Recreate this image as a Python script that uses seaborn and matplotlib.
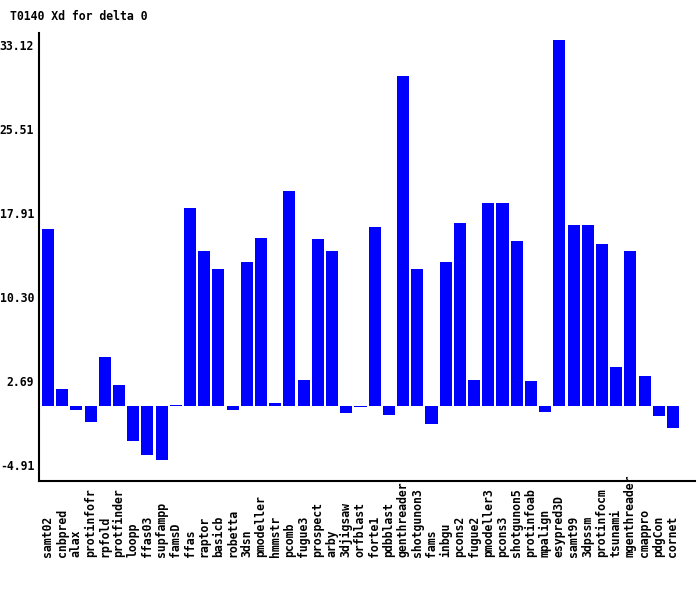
import matplotlib
matplotlib.use('Agg')
import matplotlib.pyplot as plt
import seaborn as sns
import pandas as pd

servers = ['samt02', 'cnbpred', 'alax', 'protinfofr', 'rpfold', 'protfinder', 'loopp',
           'ffas03', 'supfampp', 'famsD', 'ffas', 'raptor', 'basicb', 'robetta', '3dsn',
           'pmodeller', 'hmmstr', 'pcomb', 'fugue3', 'prospect', 'arby', '3djigsaw',
           'orfblast', 'forte1', 'pdbblast', 'genthreader', 'shotgunon3', 'fams', 'inbgu',
           'pcons2', 'fugue2', 'pmodeller3', 'pcons3', 'shotgunon5', 'protinfoab', 'mpalign',
           'esypred3D', 'samt99', '3dpssm', 'protinfocm', 'tsunami', 'mgenthreader',
           'cmappro', 'pdgCon', 'cornet']
xd = [16.0, 1.5, -0.4, -1.45, 4.4, 1.9, -3.17,
      -4.44, -4.91, 0.1, 17.9, 14.0, 12.4, -0.4, 13.0,
      15.2, 0.25, 19.4, 2.3, 15.1, 14.0, -0.7,
      -0.15, 16.2, -0.8, 29.86, 12.4, -1.7, 13.0,
      16.55, 2.3, 18.4, 18.4, 14.9, 2.2, -0.55,
      33.12, 16.35, 16.35, 14.6, 3.5, 14.0,
      2.69, -0.9, -2.0]
yticks = [-4.91, 2.69, 10.30, 17.91, 25.51, 33.12]

df = pd.DataFrame({'server': servers, 'xd': xd})

sns.set_style('white')
plt.rcParams['font.family'] = ['DejaVu Sans Mono']
plt.rcParams['font.weight'] = 'bold'
plt.rcParams['text.color'] = 'black'
plt.rcParams['xtick.color'] = 'black'
plt.rcParams['ytick.color'] = 'black'

fig = plt.figure(figsize=(7, 5.9), dpi=100)
ax = fig.add_axes([39 / 700, 1 - 481 / 590, (695 - 39) / 700, (481 - 33) / 590])
sns.barplot(data=df, x='server', y='xd', color='#0000ff', saturation=1,
            width=0.85, linewidth=0, ax=ax)

ax.set_xlim(-0.63, 45.55)
ax.set_ylim(-6.82, 33.75)
ax.set_yticks(yticks)
ax.set_yticklabels([f'{v:.2f}' for v in yticks], fontsize=8.3, va='top')
ax.tick_params(axis='y', length=0, pad=3.5, labelcolor='black')
ax.tick_params(axis='x', length=0, pad=54.7, labelsize=8.3, labelrotation=90,
               labelcolor='black')
plt.setp(ax.get_xticklabels(), va='bottom')
ax.set_xlabel('')
ax.set_ylabel('')

for side in ['top', 'right']:
    ax.spines[side].set_visible(False)
for side in ['left', 'bottom']:
    ax.spines[side].set_color('black')
    ax.spines[side].set_linewidth(1.5)

fig.text(10 / 700, 1 - 17 / 590, 'T0140 Xd for delta 0', fontsize=8.3,
         va='center', ha='left', color='black')

fig.savefig('out.png', dpi=100)
